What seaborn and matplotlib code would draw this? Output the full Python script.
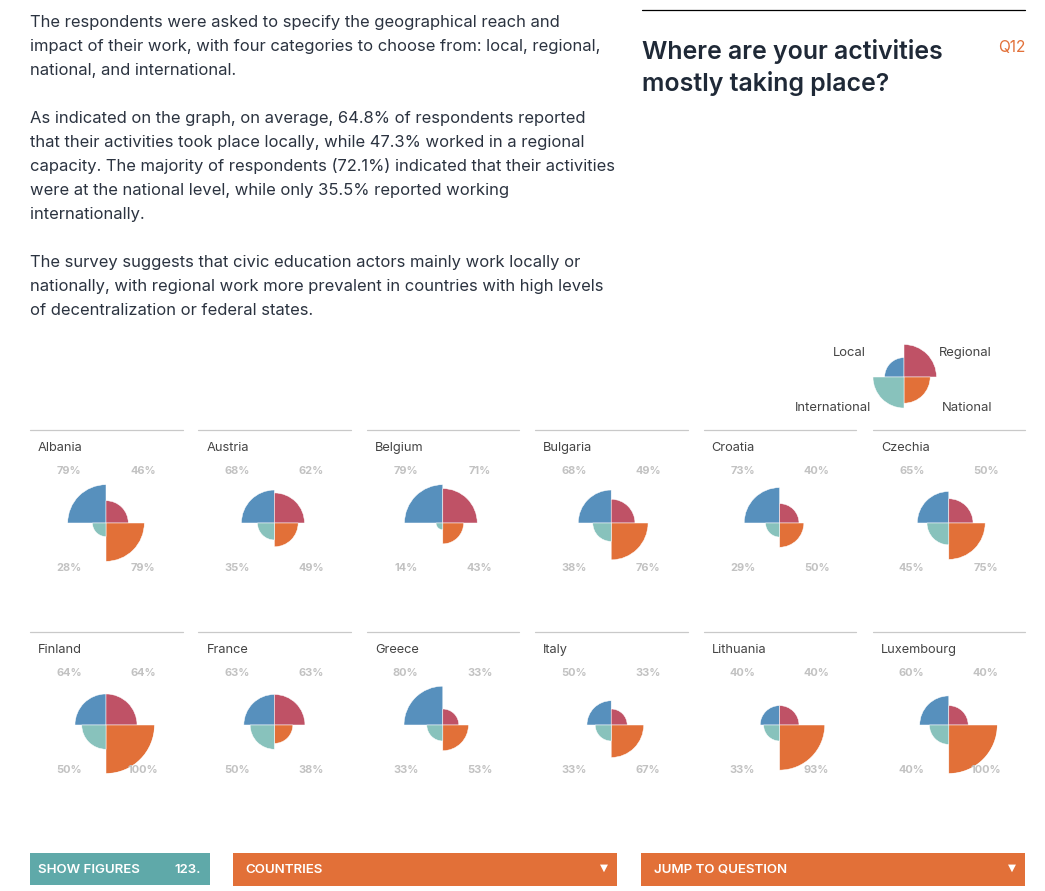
import warnings
import numpy as np
import pandas as pd
import matplotlib
matplotlib.use("Agg")
import matplotlib.pyplot as plt
from matplotlib.patches import Rectangle
import seaborn as sns

warnings.filterwarnings("ignore")

countries = ["Albania", "Austria", "Belgium", "Bulgaria", "Croatia", "Czechia",
             "Finland", "France", "Greece", "Italy", "Lithuania", "Luxembourg"]
local = [79, 68, 79, 68, 73, 65, 64, 63, 80, 50, 40, 60]
regional = [46, 62, 71, 49, 40, 50, 64, 63, 33, 33, 40, 40]
national = [79, 49, 43, 76, 50, 75, 100, 38, 53, 67, 93, 100]
international = [28, 35, 14, 38, 29, 45, 50, 50, 33, 33, 33, 40]
legend_values = [40, 67, 54, 64]
scope_names = ["Local", "Regional", "National", "International"]

body_lines = [
    "The respondents were asked to specify the geographical reach and",
    "impact of their work, with four categories to choose from: local, regional,",
    "national, and international.",
    "As indicated on the graph, on average, 64.8% of respondents reported",
    "that their activities took place locally, while 47.3% worked in a regional",
    "capacity. The majority of respondents (72.1%) indicated that their activities",
    "were at the national level, while only 35.5% reported working",
    "internationally.",
    "The survey suggests that civic education actors mainly work locally or",
    "nationally, with regional work more prevalent in countries with high levels",
    "of decentralization or federal states.",
]
body_y = [21, 45, 69, 117, 141, 165, 189, 213, 261, 285, 309]

W, H = 1045, 891
FONT = "Inter"
PCT = 100 / 72
BLUE, RED, ORANGE, TEAL = "#5790bd", "#bf5266", "#e27038", "#88c2bc"
COLORS = {"Local": BLUE, "Regional": RED, "National": ORANGE, "International": TEAL}
ANGLE = {"Regional": 45, "National": 135, "International": 225, "Local": 315}

sns.set_theme(style="white")
plt.rcParams["font.family"] = [FONT, "DejaVu Sans"]

df = pd.DataFrame({"country": countries, "Local": local, "Regional": regional,
                   "National": national, "International": international})
long = df.melt(id_vars="country", var_name="scope", value_name="pct")


def rose(data, color=None, **kw):
    ax = plt.gca()
    draw_rose(ax, data["scope"], data["pct"])


def draw_rose(ax, scopes, values):
    ax.set_theta_zero_location("N")
    ax.set_theta_direction(-1)
    ax.bar([np.deg2rad(ANGLE[s]) for s in scopes], list(values), width=np.pi / 2,
           color=[COLORS[s] for s in scopes], edgecolor="white", linewidth=0.35)
    ax.set_rlim(0, 100)
    ax.axis("off")


g = sns.FacetGrid(long, col="country", col_order=countries, col_wrap=6, height=1,
                  aspect=1, sharex=False, sharey=False, despine=False,
                  subplot_kws={"projection": "polar"})
g.map_dataframe(rose)
g.set_titles("")
fig = g.figure
fig.set_size_inches(W / 100, H / 100)
fig.patch.set_facecolor("white")

R_PX = 48.5


def place(ax, cx, cy, r=R_PX):
    ax.set_position([(cx - r) / W, 1 - (cy + r) / H, 2 * r / W, 2 * r / H])


# page-wide layer in pixel coordinates for text, rules and buttons
page = fig.add_axes([0, 0, 1, 1], zorder=5)
page.set_xlim(0, W)
page.set_ylim(H, 0)
page.axis("off")
page.patch.set_alpha(0)


def txt(x, y, s, px, color="#333333", weight="normal", ha="left"):
    # y is the visual middle of the line; anchor on the baseline so that
    # descenders do not shift neighbouring labels
    page.text(x, y + 0.34 * px, s, fontsize=px / PCT, color=color, fontweight=weight,
              ha=ha, va="baseline", family=[FONT, "DejaVu Sans"])


for s, y in zip(body_lines, body_y):
    txt(30, y, s, 16.6, "#2b3340")

page.plot([642, 1025], [10, 10], color="black", lw=0.9)
txt(642, 51, "Where are your activities", 24.9, "#1f2937", "semibold")
txt(642, 83, "mostly taking place?", 24.9, "#1f2937", "semibold")
txt(1025.5, 47, "Q12", 15.5, ORANGE, ha="right")

# legend rose
leg_ax = fig.add_axes([0, 0, 0.1, 0.1], projection="polar")
draw_rose(leg_ax, scope_names, legend_values)
place(leg_ax, 904, 377)
txt(833, 352, "Local", 13, "#444444")
txt(939, 352, "Regional", 13, "#444444")
txt(795, 407, "International", 13, "#444444")
txt(942, 407, "National", 13, "#444444")

# small multiples
lefts = [30, 198.4, 366.8, 535.2, 703.6, 872.8]
tops = [430, 632]
for i, c in enumerate(countries):
    row, col = divmod(i, 6)
    x0, y0 = lefts[col], tops[row]
    cx, cy = x0 + 76, y0 + 93
    place(g.axes[i], cx, cy)
    page.plot([x0, x0 + 152.5], [y0, y0], color="#c9c9c9", lw=0.9)
    txt(x0 + 8, y0 + 17, c, 12.8, "#444444")
    grey = "#c2c2c2"
    txt(cx - 37, y0 + 40, f"{local[i]}%", 11, grey, "bold", "center")
    txt(cx + 37, y0 + 40, f"{regional[i]}%", 11, grey, "bold", "center")
    txt(cx - 37, y0 + 137, f"{international[i]}%", 11, grey, "bold", "center")
    txt(cx + 37, y0 + 137, f"{national[i]}%", 11, grey, "bold", "center")

# bottom controls
page.add_patch(Rectangle((30, 853), 180, 32, color="#5fa9a9", lw=0))
page.add_patch(Rectangle((233, 853), 384, 33, color=ORANGE, lw=0))
page.add_patch(Rectangle((641, 853), 384, 33, color=ORANGE, lw=0))
txt(38, 868, "SHOW FIGURES", 13.3, "white", "semibold")
txt(201, 868, "123.", 13.3, "white", "semibold", "right")
txt(245, 868, "COUNTRIES", 13.3, "white", "semibold")
txt(654, 868, "JUMP TO QUESTION", 13.3, "white", "semibold")
for x in (604, 1012):
    page.text(x, 868, "\u25BC", fontsize=7.5, color="white", ha="center", va="center",
              family="DejaVu Sans")

fig.savefig("out.png", dpi=100, facecolor="white")
